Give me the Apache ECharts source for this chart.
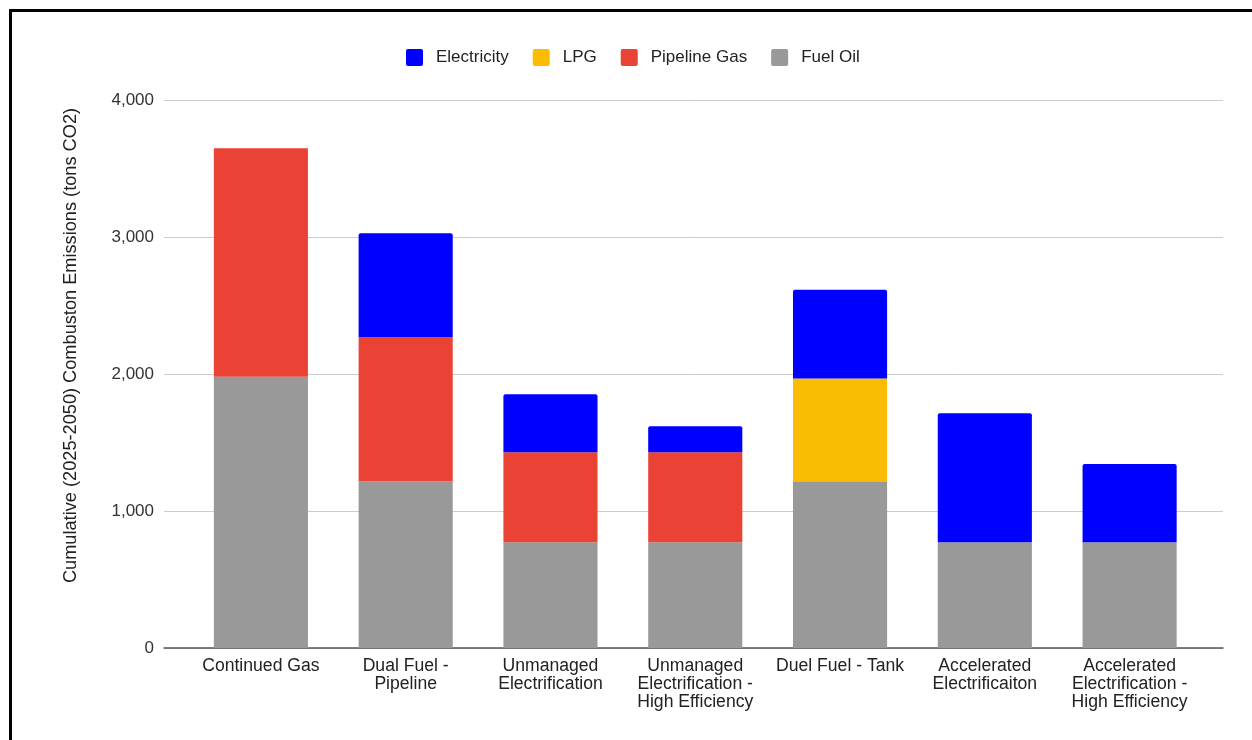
<!DOCTYPE html>
<html>
<head>
<meta charset="utf-8">
<script src="https://cdn.jsdelivr.net/npm/echarts@6/dist/echarts.min.js"></script>
<style>
  html, body { margin: 0; padding: 0; background: #fff; }
  #chart { width: 1252px; height: 740px; }
</style>
</head>
<body>
<div id="chart"></div>
<script>
const categories = [
  'Continued Gas',
  'Dual Fuel -\nPipeline',
  'Unmanaged\nElectrification',
  'Unmanaged\nElectrification -\nHigh Efficiency',
  'Duel Fuel - Tank',
  'Accelerated\nElectrificaiton',
  'Accelerated\nElectrification -\nHigh Efficiency'
]
const fuelOil = [1980, 1217, 772, 772, 1217, 772, 772]
const pipelineGas = [1667, 1051, 656, 656, 0, 0, 0]
const lpg = [0, 0, 0, 0, 751, 0, 0]
const electricity = [0, 759, 424, 190, 647, 941, 571]
const yTicks = { min: 0, max: 4000, interval: 1000 }

const font = 'Liberation Sans, Arial, sans-serif'
// small-radius square for legend keys
const keyIcon = 'path://M2,0 L15,0 Q17,0 17,2 L17,15 Q17,17 15,17 L2,17 Q0,17 0,15 L0,2 Q0,0 2,0 Z'
const myEcharts = echarts.init(document.getElementById('chart'))

// grid 0 only carries gridlines + baseline, grid 1 holds the bars (narrower, like google charts)
const option = {
  animation: false,
  textStyle: { fontFamily: font },
  legend: {
    top: 44,
    left: 401,
    itemWidth: 17,
    itemHeight: 17,
    itemGap: 24,
    icon: keyIcon,
    data: ['Electricity', 'LPG', 'Pipeline Gas', 'Fuel Oil'],
    textStyle: { fontSize: 17, color: '#222', fontFamily: font, padding: [0, 0, 0, 8] }
  },
  grid: [
    { left: 164, right: 29, top: 100, bottom: 92 },
    { left: 188.5, right: 50, top: 100, bottom: 92 }
  ],
  xAxis: [
    {
      gridIndex: 0, type: 'value', min: 0, max: 1,
      axisLine: { show: true, lineStyle: { color: '#555', width: 1.5 } },
      axisTick: { show: false }, axisLabel: { show: false }, splitLine: { show: false }
    },
    {
      gridIndex: 1, type: 'category', data: categories,
      axisLine: { show: false }, axisTick: { show: false },
      axisLabel: { fontSize: 17.6, color: '#222', lineHeight: 18, margin: 9, interval: 0, fontFamily: font }
    }
  ],
  yAxis: [
    {
      gridIndex: 0, type: 'value', min: yTicks.min, max: yTicks.max, interval: yTicks.interval,
      axisLine: { show: false }, axisTick: { show: false },
      axisLabel: {
        fontSize: 17, color: '#333', margin: 10, fontFamily: font,
        formatter: v => v.toLocaleString('en-US')
      },
      splitLine: { lineStyle: { color: '#cccccc', width: 1 } }
    },
    { gridIndex: 1, type: 'value', min: yTicks.min, max: yTicks.max, show: false }
  ],
  graphic: [
    { type: 'line', shape: { x1: 9, y1: 10.5, x2: 1252, y2: 10.5 }, style: { stroke: '#000', lineWidth: 3 } },
    { type: 'line', shape: { x1: 10.5, y1: 9, x2: 10.5, y2: 740 }, style: { stroke: '#000', lineWidth: 3 } },
    {
      type: 'text', x: 71, y: 345.5, rotation: Math.PI / 2,
      style: {
        text: 'Cumulative (2025-2050) Combuston Emissions (tons CO2)',
        fontSize: 18.2, fill: '#222', fontFamily: font, align: 'center', verticalAlign: 'middle'
      }
    }
  ],
  series: [
    { name: 'Fuel Oil', type: 'bar', stack: 'total', xAxisIndex: 1, yAxisIndex: 1, barWidth: '65%', data: fuelOil, itemStyle: { color: '#999999' } },
    { name: 'Pipeline Gas', type: 'bar', stack: 'total', xAxisIndex: 1, yAxisIndex: 1, data: pipelineGas, itemStyle: { color: '#ea4335' } },
    { name: 'LPG', type: 'bar', stack: 'total', xAxisIndex: 1, yAxisIndex: 1, data: lpg, itemStyle: { color: '#fbbc04' } },
    { name: 'Electricity', type: 'bar', stack: 'total', xAxisIndex: 1, yAxisIndex: 1, data: electricity, itemStyle: { color: '#0000ff', borderRadius: [2, 2, 0, 0] } }
  ]
}
myEcharts.setOption(option)
</script>
</body>
</html>
